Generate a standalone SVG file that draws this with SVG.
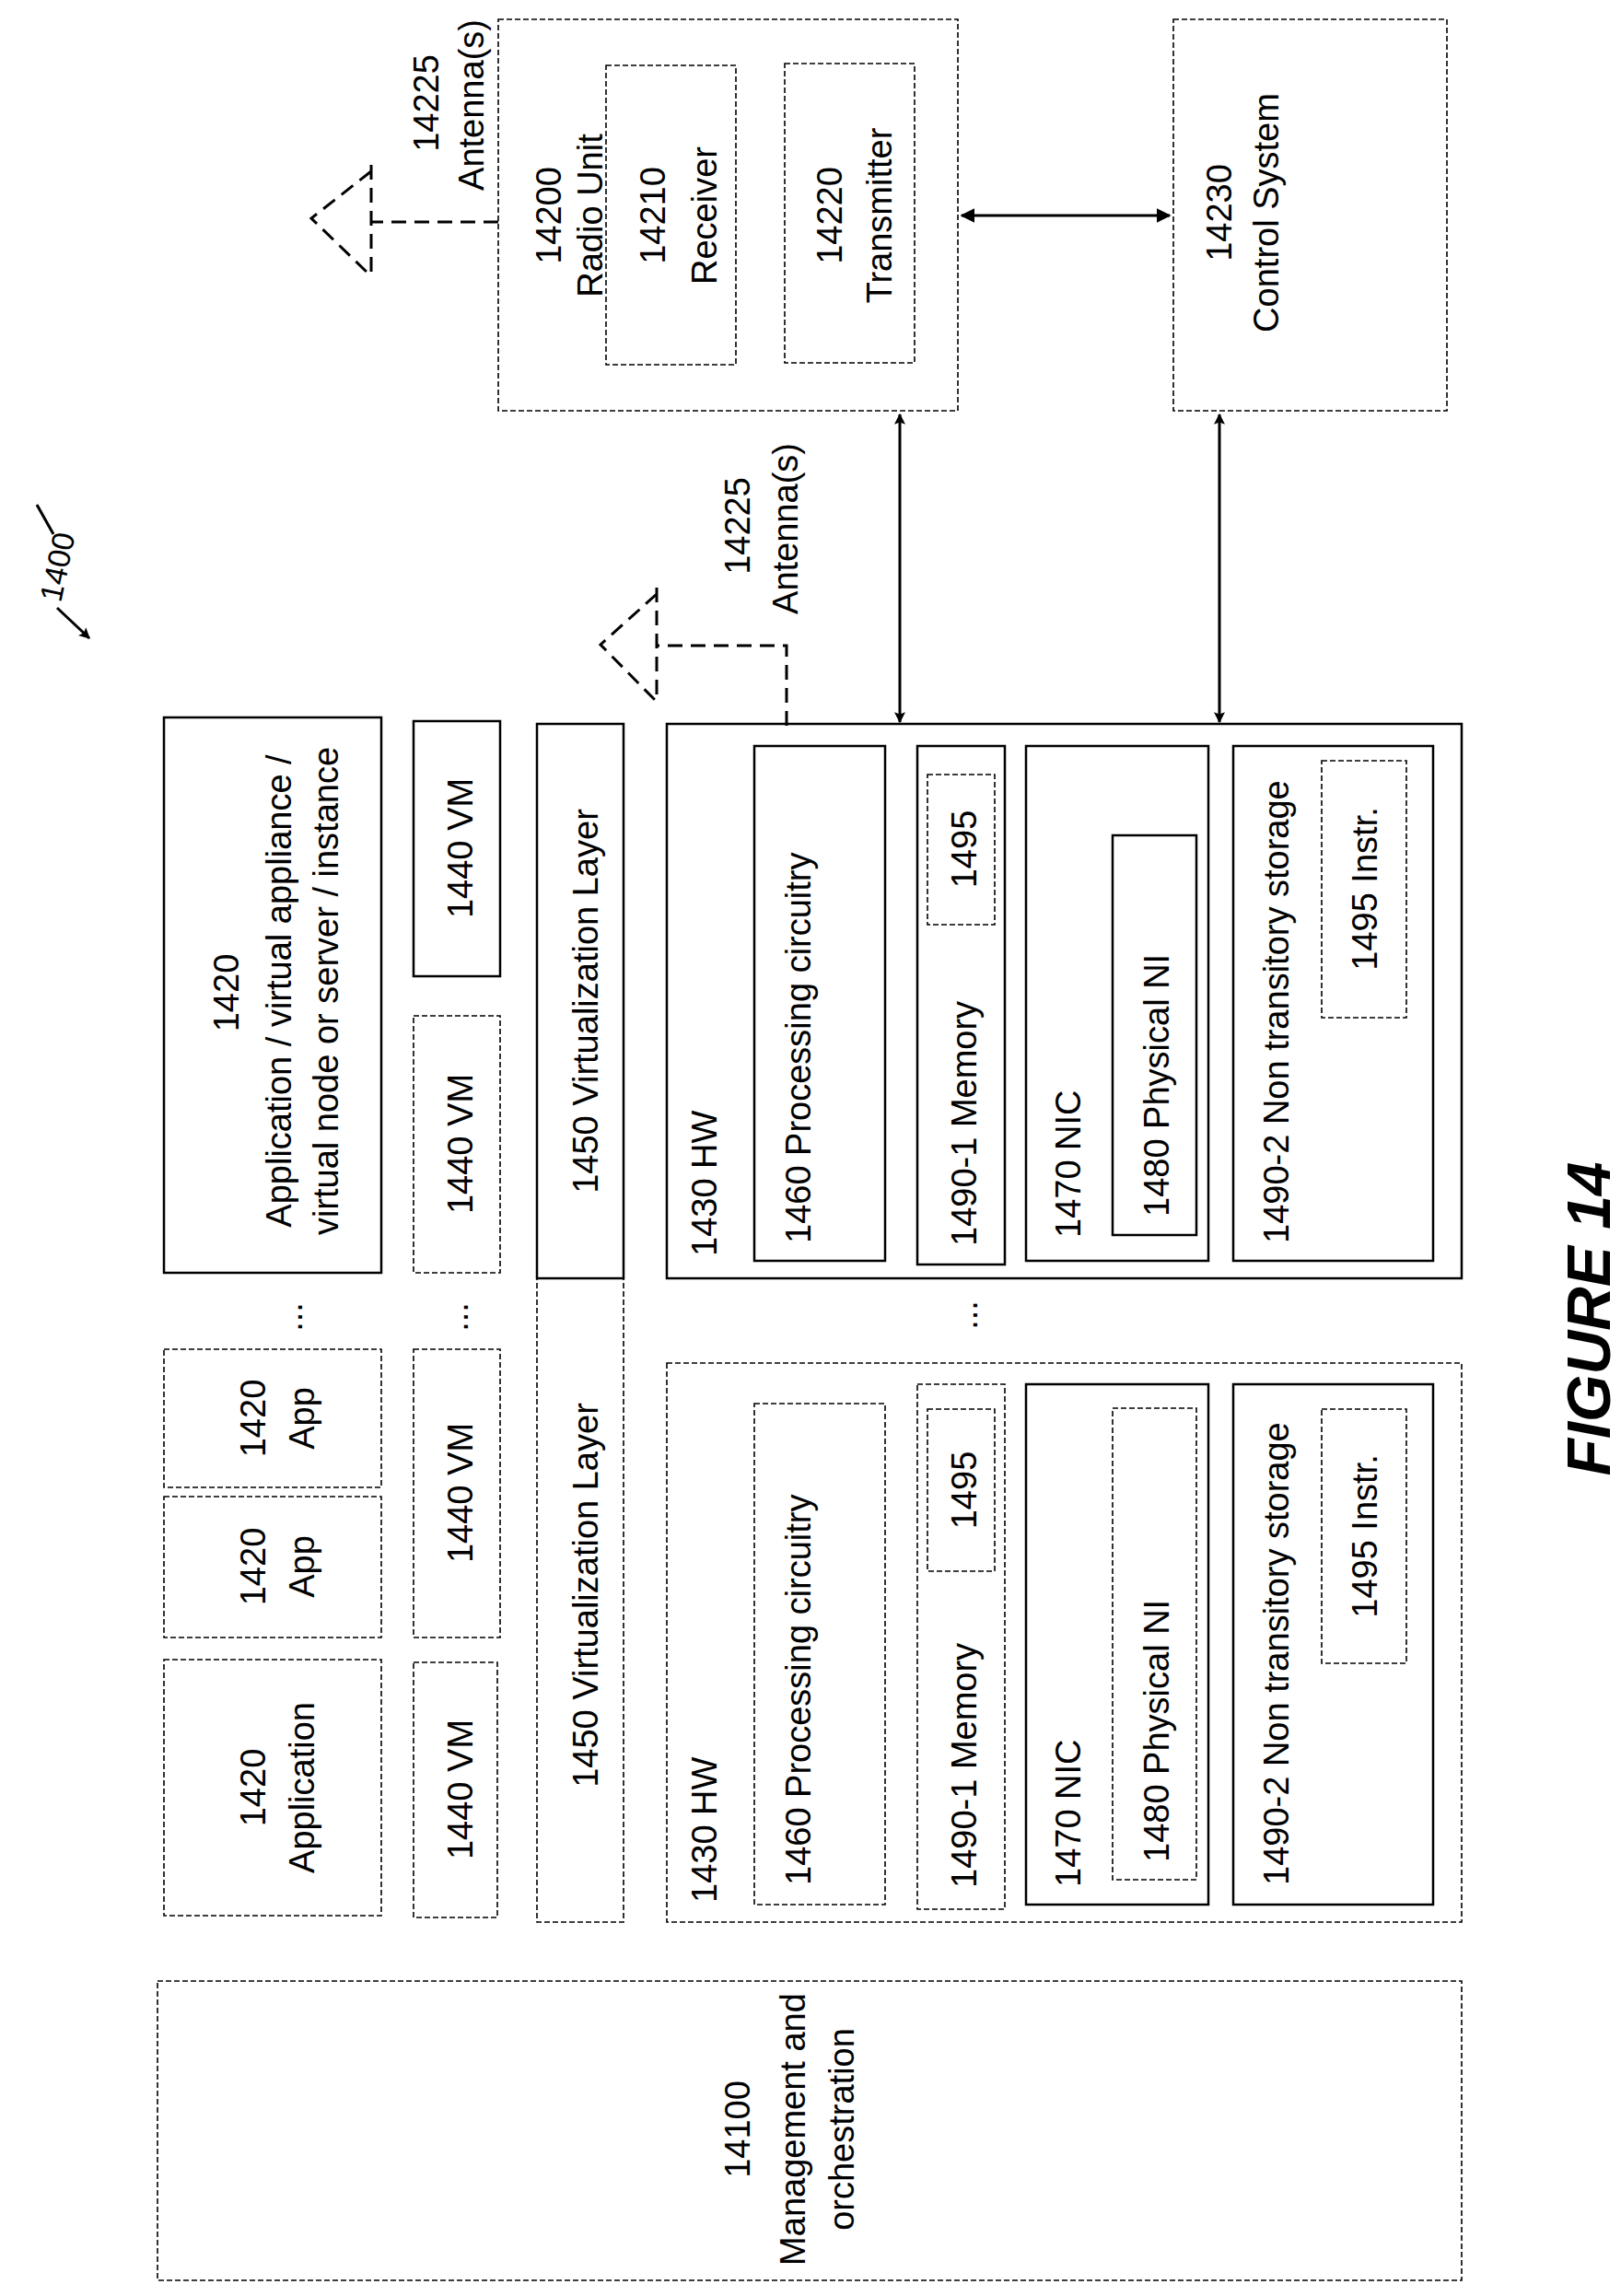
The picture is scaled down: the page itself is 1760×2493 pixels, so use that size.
<svg xmlns="http://www.w3.org/2000/svg" width="1760" height="2493" viewBox="0 0 1760 2493">
<style>
.s{fill:none;stroke:#000;stroke-width:2.5}
.d{fill:none;stroke:#000;stroke-width:1.6;stroke-dasharray:6 3}
.ad{fill:none;stroke:#000;stroke-width:3;stroke-dasharray:16 9}
.c{fill:none;stroke:#000;stroke-width:3}
text{font-family:"Liberation Sans",Arial,sans-serif;font-size:38px;fill:#000}
.m{text-anchor:middle}
.fig{font-size:66px;font-weight:bold;font-style:italic}
</style>
<defs>
<marker id="ah" viewBox="0 0 10 10" refX="9" refY="5" markerWidth="16" markerHeight="16" markerUnits="userSpaceOnUse" orient="auto-start-reverse"><path d="M0,0 L10,5 L0,10 z" fill="#000"/></marker>
<marker id="ah2" viewBox="0 0 10 10" refX="9" refY="5" markerWidth="12" markerHeight="16" orient="auto-start-reverse" markerUnits="userSpaceOnUse"><path d="M0,0 L10,5 L0,10 L2,5 z" fill="#000"/></marker>
</defs>

<g id="label-1400">
<text transform="translate(66,655) rotate(-78)" style="font-size:34px">1400</text>
<path class="c" d="M58,580 L40,548" stroke-width="2.5"/>
<path class="c" d="M62,660 L97,693" stroke-width="2.5" marker-end="url(#ah2)"/>
</g>

<g id="radio-unit">
<rect class="d" x="541" y="21" width="499" height="425"/>
<text class="m" transform="translate(609,234) rotate(-90)">14200</text>
<text class="m" transform="translate(654,234) rotate(-90)">Radio Unit</text>
</g>
<g id="receiver">
<rect class="d" x="658" y="71" width="141" height="325"/>
<text class="m" transform="translate(722,234) rotate(-90)">14210</text>
<text class="m" transform="translate(778,234) rotate(-90)">Receiver</text>
</g>
<g id="transmitter">
<rect class="d" x="852" y="69" width="141" height="325"/>
<text class="m" transform="translate(914,234) rotate(-90)">14220</text>
<text class="m" transform="translate(968,234) rotate(-90)">Transmitter</text>
</g>
<g id="control-system">
<rect class="d" x="1274" y="21" width="297" height="425"/>
<text class="m" transform="translate(1337,231) rotate(-90)">14230</text>
<text class="m" transform="translate(1388,231) rotate(-90)">Control System</text>
</g>

<g id="antenna-1">
<path class="ad" d="M541,241 H403 M403,179 V300 M403,186 L338,237 L403,300"/>
<text class="m" transform="translate(476,112) rotate(-90)">14225</text>
<text class="m" transform="translate(525,114) rotate(-90)">Antenna(s)</text>
</g>
<g id="antenna-2">
<path class="ad" d="M854,788 V701 H713 M713,638 V762 M713,645 L652,700 L713,762"/>
<text class="m" transform="translate(814,571) rotate(-90)">14225</text>
<text class="m" transform="translate(866,574) rotate(-90)">Antenna(s)</text>
</g>

<g id="connectors">
<path class="c" d="M1044,234 H1270" stroke-width="4" marker-start="url(#ah)" marker-end="url(#ah)"/>
<path class="c" d="M977,450 V784" stroke-width="2.5" marker-start="url(#ah2)" marker-end="url(#ah2)"/>
<path class="c" d="M1324,450 V784" stroke-width="2.5" marker-start="url(#ah2)" marker-end="url(#ah2)"/>
</g>

<g id="app-main">
<rect class="s" x="178" y="779" width="236" height="603"/>
<text class="m" transform="translate(259,1078) rotate(-90)">1420</text>
<text class="m" transform="translate(316,1076) rotate(-90)">Application / virtual appliance /</text>
<text class="m" transform="translate(367,1076) rotate(-90)">virtual node or server / instance</text>
</g>
<g id="vm-1">
<rect class="s" x="449" y="783" width="94" height="277"/>
<text class="m" transform="translate(513,921) rotate(-90)">1440 VM</text>
</g>
<g id="vm-2">
<rect class="d" x="449" y="1103" width="94" height="279"/>
<text class="m" transform="translate(513,1242) rotate(-90)">1440 VM</text>
</g>
<g id="vlayer-1">
<rect class="s" x="583" y="786" width="94" height="602"/>
<text class="m" transform="translate(649,1087) rotate(-90)">1450 Virtualization Layer</text>
</g>

<g id="ellipses">
<text class="m" transform="translate(328,1430) rotate(-90)">...</text>
<text class="m" transform="translate(508,1430) rotate(-90)">...</text>
<text class="m" transform="translate(1061,1428) rotate(-90)">...</text>
</g>

<g id="app-3">
<rect class="d" x="178" y="1465" width="236" height="150"/>
<text class="m" transform="translate(288,1540) rotate(-90)">1420</text>
<text class="m" transform="translate(341,1540) rotate(-90)">App</text>
</g>
<g id="app-2">
<rect class="d" x="178" y="1625" width="236" height="153"/>
<text class="m" transform="translate(288,1701) rotate(-90)">1420</text>
<text class="m" transform="translate(341,1701) rotate(-90)">App</text>
</g>
<g id="app-1">
<rect class="d" x="178" y="1802" width="236" height="278"/>
<text class="m" transform="translate(288,1941) rotate(-90)">1420</text>
<text class="m" transform="translate(341,1941) rotate(-90)">Application</text>
</g>
<g id="vm-3">
<rect class="d" x="449" y="1465" width="94" height="313"/>
<text class="m" transform="translate(513,1621) rotate(-90)">1440 VM</text>
</g>
<g id="vm-4">
<rect class="d" x="449" y="1805" width="91" height="277"/>
<text class="m" transform="translate(513,1943) rotate(-90)">1440 VM</text>
</g>
<g id="vlayer-2">
<rect class="d" x="583" y="1388" width="94" height="699"/>
<text class="m" transform="translate(649,1732) rotate(-90)">1450 Virtualization Layer</text>
</g>

<g id="hw-1">
<rect class="s" x="724" y="786" width="863" height="602"/>
<text transform="translate(778,1364) rotate(-90)">1430 HW</text>
<rect class="s" x="819" y="810" width="142" height="559"/>
<text transform="translate(880,1350) rotate(-90)">1460 Processing circuitry</text>
<rect class="s" x="996" y="810" width="95" height="563"/>
<text transform="translate(1060,1353) rotate(-90)">1490-1 Memory</text>
<rect class="d" x="1007" y="841" width="73" height="163"/>
<text class="m" transform="translate(1060,922) rotate(-90)">1495</text>
<rect class="s" x="1114" y="810" width="198" height="559"/>
<text transform="translate(1173,1344) rotate(-90)">1470 NIC</text>
<rect class="s" x="1208" y="907" width="91" height="434"/>
<text transform="translate(1269,1321) rotate(-90)">1480 Physical NI</text>
<rect class="s" x="1339" y="810" width="217" height="559"/>
<text transform="translate(1399,1350) rotate(-90)">1490-2 Non transitory storage</text>
<rect class="d" x="1435" y="826" width="92" height="279"/>
<text class="m" transform="translate(1495,965) rotate(-90)">1495 Instr.</text>
</g>

<g id="hw-2">
<rect class="d" x="724" y="1480" width="863" height="607"/>
<text transform="translate(778,2066) rotate(-90)">1430 HW</text>
<rect class="d" x="819" y="1524" width="142" height="544"/>
<text transform="translate(880,2047) rotate(-90)">1460 Processing circuitry</text>
<rect class="d" x="996" y="1503" width="95" height="570"/>
<text transform="translate(1060,2050) rotate(-90)">1490-1 Memory</text>
<rect class="d" x="1007" y="1530" width="73" height="176"/>
<text class="m" transform="translate(1060,1618) rotate(-90)">1495</text>
<rect class="s" x="1114" y="1503" width="198" height="565"/>
<text transform="translate(1173,2049) rotate(-90)">1470 NIC</text>
<rect class="d" x="1208" y="1529" width="91" height="512"/>
<text transform="translate(1269,2022) rotate(-90)">1480 Physical NI</text>
<rect class="s" x="1339" y="1503" width="217" height="565"/>
<text transform="translate(1399,2047) rotate(-90)">1490-2 Non transitory storage</text>
<rect class="d" x="1435" y="1530" width="92" height="276"/>
<text class="m" transform="translate(1495,1668) rotate(-90)">1495 Instr.</text>
</g>

<g id="management">
<rect class="d" x="171" y="2151" width="1416" height="325"/>
<text class="m" transform="translate(814,2312) rotate(-90)">14100</text>
<text class="m" transform="translate(874,2312) rotate(-90)">Management and</text>
<text class="m" transform="translate(927,2312) rotate(-90)">orchestration</text>
</g>

<text class="m fig" transform="translate(1748,1432) rotate(-90)">FIGURE 14</text>
</svg>
